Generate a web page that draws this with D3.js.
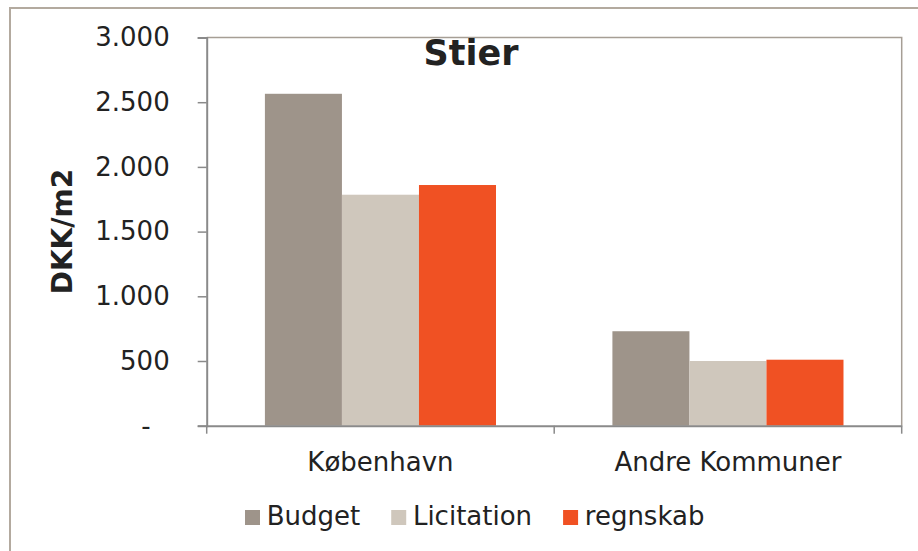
<!DOCTYPE html>
<html>
<head>
<meta charset="utf-8">
<script src="https://cdn.jsdelivr.net/npm/d3@7"></script>
<style>
  body { margin: 0; background: #fff; }
  svg { display: block; font-family: "DejaVu Sans", Verdana, sans-serif; }
</style>
</head>
<body>
<div id="chart-container"></div>
<script>
// cost per m2 for paths ("Stier")
const categories = ["København", "Andre Kommuner"];
const series = ["Budget", "Licitation", "regnskab"];
const budget = [2565, 730];
const licitation = [1785, 500];
const regnskab = [1860, 510];
const yTicks = [0, 500, 1000, 1500, 2000, 2500, 3000];
const colors = ["#9e948a", "#cfc7bc", "#f05123"];

const font = "DejaVu Sans, Verdana, sans-serif";
const values = [budget, licitation, regnskab];
const data = categories.map((c, i) => ({
    category: c,
    bars: series.map((s, j) => ({ key: s, value: values[j][i], color: colors[j] }))
}));

const width = 918, height = 551;
const margin = ({ top: 37.5, right: 16.3, bottom: 125.3, left: 206.7 });

const svg = d3.select("#chart-container")
    .append("svg")
    .attr("width", width)
    .attr("height", height)
    .attr("font-family", font);

svg.append("rect")
    .attr("width", width).attr("height", height)
    .attr("fill", "#fff");

// outer chart frame (runs off the right/bottom edge)
svg.append("rect")
    .attr("x", 10).attr("y", 8)
    .attr("width", 1000).attr("height", 1000)
    .attr("fill", "none")
    .attr("stroke", "#b3aa9f")
    .attr("stroke-width", 2);

const x0 = d3.scaleBand()
    .domain(categories)
    .range([margin.left, width - margin.right])
    .paddingInner(0.335)
    .paddingOuter(0.1675);

const x1 = d3.scaleBand()
    .domain(series)
    .range([0, x0.bandwidth()]);

const y = d3.scaleLinear()
    .domain([0, 3000])
    .range([height - margin.bottom, margin.top]);

// plot frame top + right
svg.append("path")
    .attr("d", `M${margin.left},${margin.top}H${width - margin.right}V${y(0)}`)
    .attr("fill", "none")
    .attr("stroke", "#a69e95")
    .attr("stroke-width", 1.5);

const locale = d3.formatLocale({ decimal: ",", thousands: ".", grouping: [3], currency: ["", ""] });
const fmt = locale.format(",");

// bars
svg.append("g")
    .selectAll("g")
    .data(data)
    .join("g")
    .attr("transform", d => `translate(${x0(d.category)},0)`)
    .selectAll("rect")
    .data(d => d.bars)
    .join("rect")
    .attr("x", d => x1(d.key))
    .attr("y", d => y(d.value))
    .attr("width", x1.bandwidth())
    .attr("height", d => y(0) - y(d.value))
    .attr("fill", d => d.color);

const yAxis = g => g
    .attr("transform", `translate(${margin.left},0)`)
    .call(d3.axisLeft(y).tickValues(yTicks).tickSize(9).tickPadding(28)
        .tickFormat(d => d === 0 ? "-" : fmt(d)))
    .attr("font-family", font)
    .attr("font-size", 26)
    .call(g => g.select(".domain").attr("stroke", "#8a8a8a").attr("stroke-width", 2))
    .call(g => g.selectAll(".tick line").attr("stroke", "#8a8a8a").attr("stroke-width", 1.5))
    .call(g => g.selectAll(".tick text")
        .attr("fill", "#222")
        .attr("dx", d => d === 0 ? -19 : 0));

const xAxis = g => g
    .attr("transform", `translate(0,${y(0)})`)
    .call(d3.axisBottom(x0).tickSize(0).tickPadding(27))
    .attr("font-family", font)
    .attr("font-size", 26)
    .call(g => g.select(".domain").attr("stroke", "#8a8a8a").attr("stroke-width", 2))
    .call(g => g.selectAll(".tick text").attr("fill", "#222"));

svg.append("g").call(yAxis);
svg.append("g").call(xAxis);

// category boundary ticks
const bounds = d3.range(categories.length + 1).map(i => x0.range()[0] + i * x0.step());
svg.append("g")
    .selectAll("line")
    .data(bounds)
    .join("line")
    .attr("x1", d => d).attr("x2", d => d)
    .attr("y1", y(0)).attr("y2", y(0) + 8)
    .attr("stroke", "#8a8a8a")
    .attr("stroke-width", 1.5);

// title
svg.append("text")
    .attr("x", 471)
    .attr("y", 65)
    .attr("text-anchor", "middle")
    .attr("font-size", 35)
    .attr("font-weight", "bold")
    .attr("fill", "#222")
    .text("Stier");

// y label
svg.append("text")
    .attr("transform", `translate(71.5,${(y(0) + margin.top) / 2}) rotate(-90)`)
    .attr("text-anchor", "middle")
    .attr("font-size", 28)
    .attr("font-weight", "bold")
    .attr("fill", "#222")
    .text("DKK/m2");

// legend
const legend = svg.append("g").attr("transform", "translate(245,510)");
let lx = 0;
series.forEach((s, i) => {
    const item = legend.append("g").attr("transform", `translate(${lx},0)`);
    item.append("rect")
        .attr("width", 15).attr("height", 15)
        .attr("fill", colors[i]);
    const t = item.append("text")
        .attr("x", 21.7)
        .attr("y", 15)
        .attr("font-size", 26)
        .attr("fill", "#222")
        .text(s);
    lx += 21.7 + t.node().getComputedTextLength() + 31;
});
</script>
</body>
</html>
